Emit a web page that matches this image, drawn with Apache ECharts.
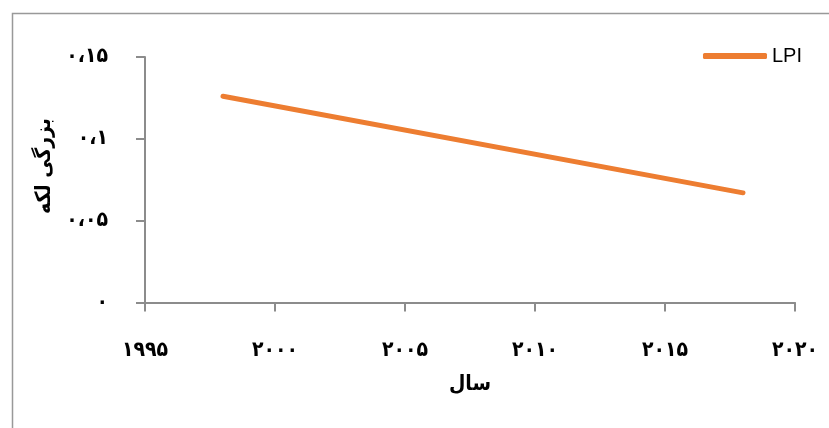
<!DOCTYPE html>
<html>
<head>
<meta charset="utf-8">
<script src="https://cdn.jsdelivr.net/npm/echarts@6/dist/echarts.min.js"></script>
<style>html,body{margin:0;padding:0;background:#fff}#c{width:829px;height:428px}</style>
</head>
<body>
<div id="c"></div>
<script>
var years = [1998, 2018];
var lpi = [0.126, 0.067];
var xTickValues = [1995, 2000, 2005, 2010, 2015, 2020];
var xTickLabels = ['۱۹۹۵', '۲۰۰۰', '۲۰۰۵', '۲۰۱۰', '۲۰۱۵', '۲۰۲۰'];
var yTickValues = [0, 0.05, 0.1, 0.15];
var yTickLabels = ['۰', '۰،۰۵', '۰،۱', '۰،۱۵'];
var seriesName = 'LPI';
var xName = 'سال';
var yName = 'بزرگی لکه';

function lookup(vals, labels, v) {
  for (var i = 0; i < vals.length; i++) if (Math.abs(vals[i] - v) < 1e-9) return labels[i];
  return '';
}

var chart = echarts.init(document.getElementById('c'));
var axisColor = '#8c8c8c';
var fa = '"DejaVu Sans Condensed", "DejaVu Sans"';
chart.setOption({
  animation: false,
  grid: { left: 145, right: 34, top: 57, bottom: 125.5, containLabel: false },
  legend: {
    data: [{ name: seriesName, icon: 'roundRect' }],
    right: 22, top: 41,
    itemWidth: 64, itemHeight: 6, itemGap: 10,
    textStyle: { fontFamily: 'Liberation Sans', fontSize: 20, color: '#000' }
  },
  xAxis: {
    type: 'value', min: 1995, max: 2020, interval: 5,
    name: xName, nameLocation: 'middle', nameGap: 72,
    nameTextStyle: { fontFamily: fa, fontWeight: 'bold', fontSize: 21, color: '#000' },
    axisLine: { show: true, lineStyle: { color: axisColor, width: 2 } },
    axisTick: { show: true, length: 9, lineStyle: { color: axisColor, width: 2 } },
    splitLine: { show: false },
    axisLabel: {
      margin: 38, fontFamily: fa, fontWeight: 'bold', fontSize: 21, color: '#000',
      formatter: function (v) { return lookup(xTickValues, xTickLabels, v); }
    }
  },
  yAxis: {
    type: 'value', min: 0, max: 0.15, interval: 0.05,
    axisLine: { show: true, onZero: false, lineStyle: { color: axisColor, width: 2 } },
    axisTick: { show: true, length: 9, lineStyle: { color: axisColor, width: 2 } },
    splitLine: { show: false },
    axisLabel: {
      margin: 37, fontFamily: fa, fontWeight: 'bold', fontSize: 21, color: '#000',
      formatter: function (v) { return lookup(yTickValues, yTickLabels, v); }
    }
  },
  graphic: [{
    type: 'rect', left: 10, top: 11, silent: true,
    shape: { width: 900, height: 500 },
    style: { fill: 'none', stroke: '#999', lineWidth: 1.5 }
  }, {
    type: 'text', x: 45, y: 166, rotation: Math.PI / 2, silent: true,
    style: {
      text: yName, x: 0, y: 0, align: 'center', verticalAlign: 'middle',
      font: 'bold 21px "DejaVu Sans Condensed", "DejaVu Sans"', fill: '#000'
    }
  }],
  series: [{
    name: seriesName, type: 'line',
    data: years.map(function (y, i) { return [y, lpi[i]]; }),
    showSymbol: false, symbol: 'none',
    itemStyle: { color: '#ED7D31' },
    lineStyle: { color: '#ED7D31', width: 5, cap: 'round' }
  }]
});
</script>
</body>
</html>
